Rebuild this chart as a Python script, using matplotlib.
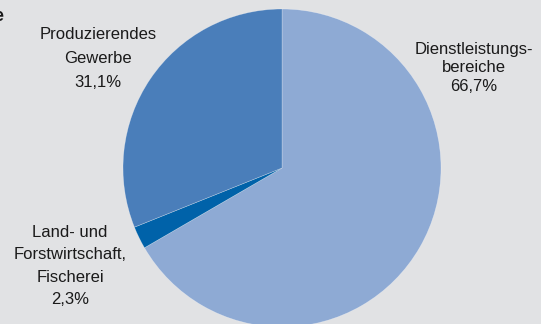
import matplotlib
matplotlib.use("Agg")
import matplotlib.pyplot as plt

categories = ["Dienstleistungs-\nbereiche", "Land- und\nForstwirtschaft,\nFischerei", "Produzierendes\nGewerbe"]
values = [66.7, 2.3, 31.1]
value_labels = ["66,7%", "2,3%", "31,1%"]
colors = ["#8eaad4", "#0062a9", "#4a7eba"]
label_pos = [(474, 68), (70, 266), (98, 58.5)]
label_spacing = [1.28, 1.6, 1.72]

plt.rcParams['font.family'] = ['Liberation Sans', 'DejaVu Sans']
fig = plt.figure(figsize=(5.41, 3.24), dpi=100)
bg = "#e1e2e4"
fig.patch.set_facecolor(bg)
ax = fig.add_axes([0, 0, 1, 1])
ax.set_facecolor(bg)

ax.pie(values, colors=colors, startangle=90, counterclock=False,
       center=(282, 324 - 168), radius=159, frame=True,
       wedgeprops=dict(linewidth=0.4, edgecolor=(1, 1, 1, 0.4)))
ax.set_xlim(0, 541)
ax.set_ylim(0, 324)
ax.set_aspect('equal')
ax.axis('off')

for cat, vl, (x, y), ls in zip(categories, value_labels, label_pos, label_spacing):
    ax.text(x, 324 - y, cat + "\n" + vl, ha='center', va='center',
            fontsize=12, color="#1a1a1a", linespacing=ls)

fig.text(-0.012, 0.948, "e", fontsize=13, fontweight='bold', color="#1a1a1a",
         ha='left', va='center')

fig.savefig("out.png", dpi=100, facecolor=bg)
